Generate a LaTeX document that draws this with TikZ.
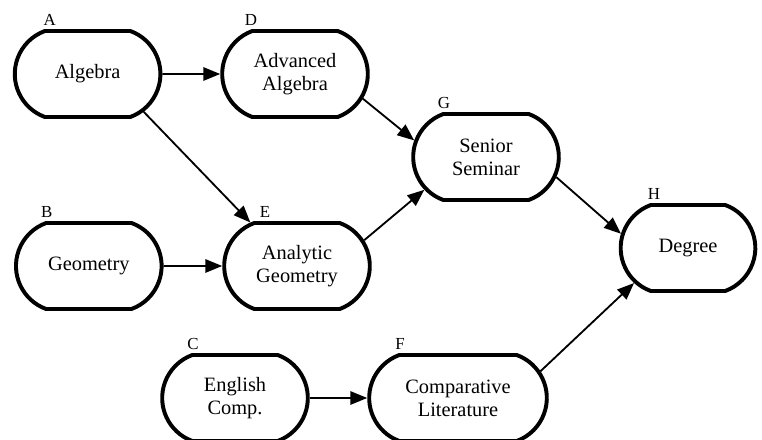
\documentclass[tikz,border=0pt]{standalone}
\usepackage{fontspec}
\setmainfont{Liberation Serif}
\usetikzlibrary{arrows.meta,shapes.misc}
\tikzset{
  every picture/.style={line join=round, >={Triangle[length=12pt,width=9.5pt]}},
  course/.style={rounded rectangle, rounded rectangle arc length=140, draw, line width=2.8pt,
    minimum width=3.875cm, minimum height=2.15cm, align=center, font=\fontsize{14.5}{16.5}\selectfont},
  tag/.style={inner sep=2pt, font=\fontsize{12}{14}\selectfont},
  link/.style={->, line width=1.3pt},
}
\begin{document}
\begin{tikzpicture}
\useasboundingbox (0,0) rectangle (19.05,11);
\node[course,label={[tag,xshift=-0.95cm]above:A}] (A) at (2.19,9.15) {Algebra};
\node[course,label={[tag,xshift=-1.1cm]above:D}] (D) at (7.375,9.15) {Advanced\\Algebra};
\node[course,label={[tag,xshift=-1.05cm]above:G}] (G) at (12.15,7.075) {Senior\\Seminar};
\node[course,label={[tag,xshift=-1.05cm]above:B}] (B) at (2.22,4.35) {Geometry};
\node[course,label={[tag,xshift=-0.8cm]above:E}] (E) at (7.425,4.35) {Analytic\\Geometry};
\node[course,minimum width=3.6cm,label={[tag,xshift=-0.85cm]above:H}] (H) at (17.2,4.8) {Degree};
\node[course,label={[tag,xshift=-1.05cm]above:C}] (C) at (5.875,1.05) {English\\Comp.};
\node[course,minimum width=4.675cm,label={[tag,xshift=-1.45cm]above:F}] (F) at (11.45,1.05) {Comparative\\Literature};
\draw[link] (A) -- (D);
\draw[link] (A.-34) -- (E.137);
\draw[link] (B) -- (E);
\draw[link] (D.-20) -- (G.167);
\draw[link] (E.21) -- (G.208);
\draw[link] (G.-16) -- (H.168);
\draw[link] (C) -- (F);
\draw[link] (F.18) -- (H.213);
\end{tikzpicture}
\end{document}
